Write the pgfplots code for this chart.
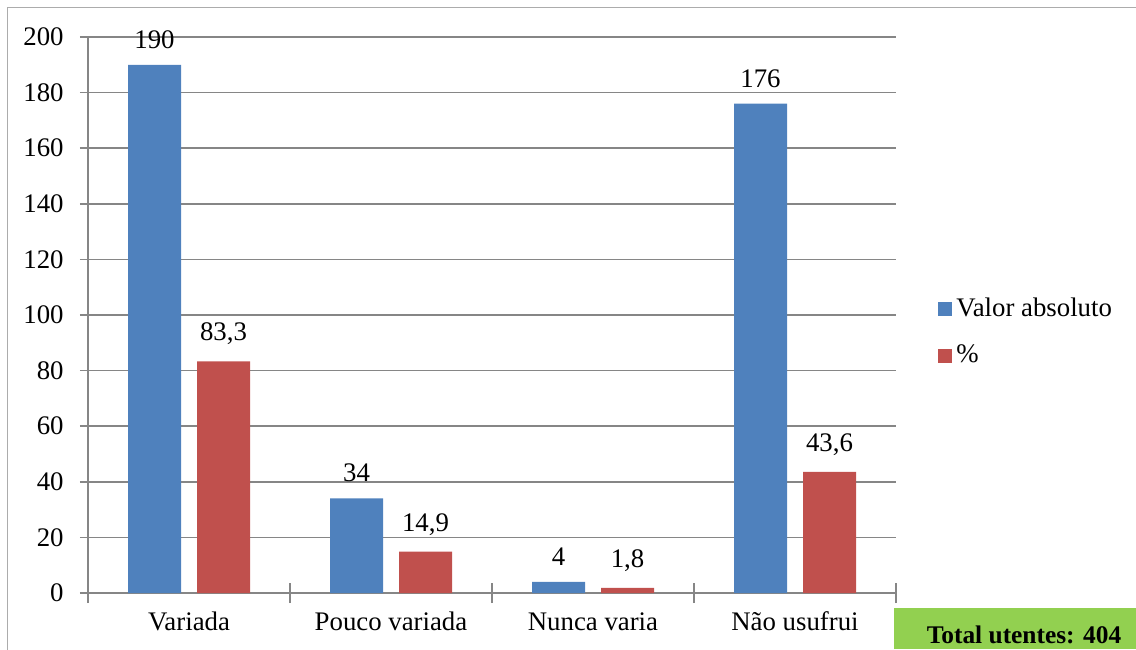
\documentclass[border=0pt]{standalone}
\usepackage{fontspec}
\setmainfont{Liberation Serif}
\usepackage{pgfplots}
\usepackage{pgfplotstable}
\pgfplotsset{compat=1.18}
\definecolor{cblue}{HTML}{4F81BD}
\definecolor{cred}{HTML}{C0504D}
\definecolor{cgreen}{HTML}{92D050}
\definecolor{cgrid}{HTML}{868686}
\pgfplotstableread{
x y lab
0 190 190
1 34 34
2 4 4
3 176 176
}\tabA
\pgfplotstableread{
x y lab
0 83.3 83,3
1 14.9 14,9
2 1.8 1,8
3 43.6 43,6
}\tabB
\begin{document}
\fontsize{13.4}{16}\selectfont
\begin{tikzpicture}
\path[use as bounding box] (0,0) rectangle (568pt,324.5pt);
\draw[gray!65, line width=0.75pt] (3.7pt,-2pt) -- (3.7pt,320.8pt) -- (570pt,320.8pt);
\fill[cgreen] (447pt,0pt) rectangle (570pt,20.5pt);
\node[anchor=base, inner sep=0pt, font=\bfseries\fontsize{12.7}{15}\selectfont] at (512pt,3pt) {Total utentes: 404};
\begin{axis}[
  at={(44pt,28pt)}, anchor=south west,
  scale only axis, width=404pt, height=278pt,
  xmin=-0.5, xmax=3.5, ymin=0, ymax=200,
  axis x line*=bottom, axis y line*=left,
  axis line style={cgrid, line width=0.75pt},
  ytick={0,20,...,200},
  ymajorgrids, grid style={cgrid, line width=0.75pt},
  ytick style={cgrid, line width=0.75pt},
  tick align=outside, major tick length=4pt,
  xtick={0,1,2,3},
  xticklabels={Variada, Pouco variada, Nunca varia, Não usufrui},
  x tick style={draw=none},
  extra x ticks={-0.5,0.5,1.5,2.5,3.5},
  extra x tick labels={},
  extra x tick style={major tick length=10pt, tick align=center, x tick style={draw=cgrid, line width=0.75pt}},
  /pgf/number format/assume math mode=true,
  ticklabel style={font=\fontsize{13.4}{16}\selectfont},
  yticklabel style={anchor=east, xshift=-8pt, inner sep=0pt},
  xticklabel style={anchor=base, inner sep=0pt, yshift=-14.5pt},
  ybar=8pt, bar width=26.5pt,
  clip=false,
  nodes near coords,
  point meta=explicit symbolic,
  every node near coord/.append style={anchor=south, inner sep=0pt, yshift=8pt, font=\fontsize{13.4}{16}\selectfont, black},
  legend style={draw=none, fill=none, at={(1.052,0.469)}, anchor=west, inner sep=0pt, row sep=8pt, font=\fontsize{13.4}{16}\selectfont},
  legend cell align=left,
]
\addplot[fill=cblue, draw=none, legend image code/.code={\fill[cblue] (0pt,-3.5pt) rectangle (7pt,3.5pt);}] table[x=x, y=y, meta=lab] {\tabA};
\addplot[fill=cred, draw=none, legend image code/.code={\fill[cred] (0pt,-3.5pt) rectangle (7pt,3.5pt);}] table[x=x, y=y, meta=lab] {\tabB};
\legend{Valor absoluto, \%}
\end{axis}
\end{tikzpicture}
\end{document}
